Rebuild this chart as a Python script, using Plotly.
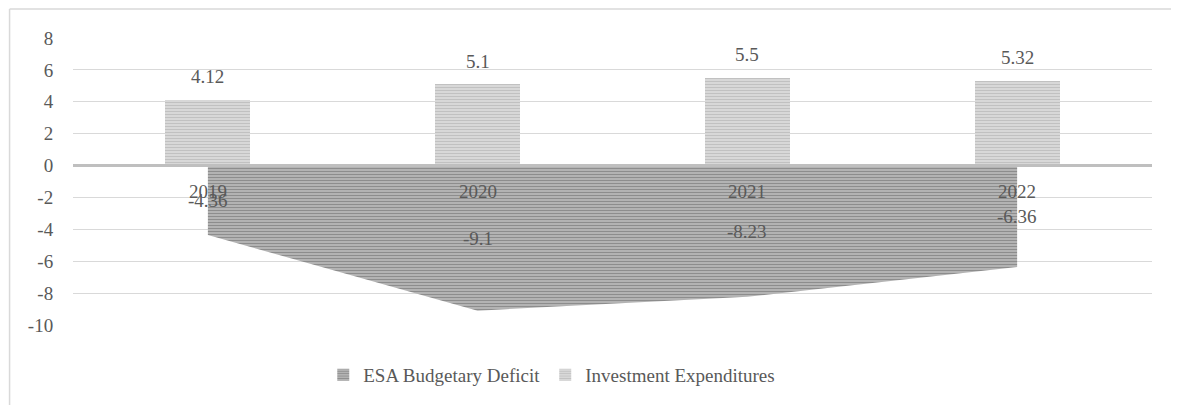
import plotly.graph_objects as go

years = ["2019", "2020", "2021", "2022"]
deficit = [-4.36, -9.1, -8.23, -6.36]
investment = [4.12, 5.1, 5.5, 5.32]
deficit_labels = ["-4.36", "-9.1", "-8.23", "-6.36"]
investment_labels = ["4.12", "5.1", "5.5", "5.32"]
y_ticks = [-10, -8, -6, -4, -2, 0, 2, 4, 6, 8]
y_tick_text = ["-10", "-8", "-6", "-4", "-2", "0", "2", "4", "6", "8"]

FONT = "Liberation Serif, Times New Roman, DejaVu Serif, serif"
TXT = "#595959"
xs = list(range(len(years)))

dark_pattern = dict(shape="-", fgcolor="#4c4c4c", bgcolor="#cfcfcf", size=3, solidity=0.62)
light_pattern = dict(shape="-", fgcolor="#9f9f9f", bgcolor="#e2e2e2", size=3, solidity=0.55)

fig = go.Figure()
fig.add_trace(go.Scatter(
    x=xs, y=deficit, mode="lines", name="ESA Budgetary Deficit", showlegend=False,
    line=dict(width=0, color="#5a5a5a"),
    fill="tozeroy", fillcolor="#6a6a6a",
    fillpattern=dark_pattern,
    hoverinfo="skip",
))
# legend-only entry so the legend shows a square swatch like the reference
fig.add_trace(go.Bar(
    x=[None], y=[None], name="ESA Budgetary Deficit",
    marker=dict(color="#6a6a6a", pattern=dark_pattern, line=dict(width=0)),
))
fig.add_trace(go.Bar(
    x=xs, y=investment, name="Investment Expenditures", width=0.315,
    marker=dict(color="#dcdcdc", pattern=light_pattern, line=dict(width=0)),
))

ann = []
for x, v, t in zip(xs, investment, investment_labels):
    ann.append(dict(x=x, y=v, text=t, showarrow=False, yshift=23, yanchor="middle",
                    font=dict(family=FONT, size=19, color=TXT)))
for x, v, t in zip(xs, deficit, deficit_labels):
    ann.append(dict(x=x, y=v / 2, text=t, showarrow=False, yanchor="middle",
                    font=dict(family=FONT, size=19, color=TXT)))
for x, t in zip(xs, years):
    ann.append(dict(x=x, y=0, text=t, showarrow=False, yshift=-26, yanchor="middle",
                    font=dict(family=FONT, size=19, color=TXT)))

# page body has an 8px margin, so the figure is drawn 8px smaller and offset
OFF = 8
W, H = 1179 - OFF, 405 - OFF
L, R, T, B = 72.5 - OFF, 26.5, 38 - OFF, 80
pw, ph = W - L - R, H - T - B
def px_x(p):
    return (p - OFF - L) / pw
def px_y(p):
    return (H - B - (p - OFF)) / ph

shapes = [
    dict(type="line", xref="paper", yref="y", x0=0, x1=1, y0=0, y1=0,
         line=dict(color="#bfbfbf", width=3), layer="above"),
    dict(type="line", xref="paper", yref="paper", x0=px_x(9), x1=px_x(9), y0=px_y(9), y1=px_y(410),
         line=dict(color="#d9d9d9", width=1.5)),
    dict(type="line", xref="paper", yref="paper", x0=px_x(9), x1=px_x(1185), y0=px_y(9), y1=px_y(9),
         line=dict(color="#d9d9d9", width=1.5)),
]

fig.update_layout(
    width=W, height=H,
    margin=dict(l=L, r=R, t=T, b=B, autoexpand=False),
    paper_bgcolor="white", plot_bgcolor="white",
    font=dict(family=FONT, size=19, color=TXT),
    showlegend=True,
    legend=dict(orientation="h", x=px_x(323), xanchor="left", y=px_y(375), yanchor="middle",
                font=dict(family=FONT, size=19, color=TXT),
                bgcolor="rgba(0,0,0,0)", traceorder="normal"),
    xaxis=dict(range=[-0.5, 3.5], showticklabels=False, showgrid=False, zeroline=False,
               showline=False, ticks=""),
    yaxis=dict(range=[-10, 8], tickvals=y_ticks, ticktext=y_tick_text, showgrid=True,
               gridcolor="#d9d9d9", gridwidth=1,
               zeroline=False, showline=False, ticks="outside", ticklen=15, tickcolor="rgba(0,0,0,0)",
               tickfont=dict(family=FONT, size=19, color=TXT)),
    annotations=ann,
    shapes=shapes,
    bargap=0,
)

fig.write_html("out.html")
